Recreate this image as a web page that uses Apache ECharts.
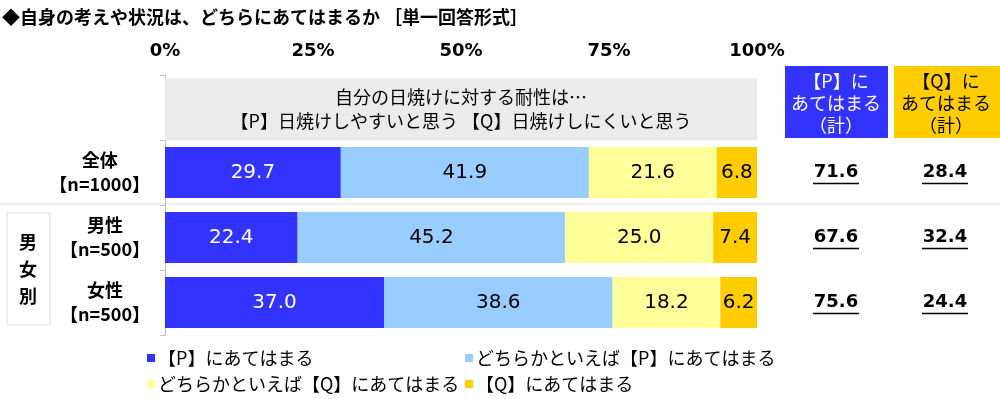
<!DOCTYPE html>
<html>
<head>
<meta charset="utf-8">
<script src="https://cdn.jsdelivr.net/npm/echarts@6/dist/echarts.min.js"></script>
<style>
html, body { margin: 0; padding: 0; background: #fff; }
#main { width: 1000px; height: 399px; }
</style>
</head>
<body>
<div id="main"></div>
<script>
var FONT = '"Noto Sans CJK JP", "Noto Sans", sans-serif';
var NUMFONT = '"DejaVu Sans", sans-serif';

// データ
var rows = ['全体', '男性', '女性'];
var counts = ['【n=1000】', '【n=500】', '【n=500】'];
var seriesNames = ['【P】にあてはまる', 'どちらかといえば【P】にあてはまる', 'どちらかといえば【Q】にあてはまる', '【Q】にあてはまる'];
var valP = [29.7, 22.4, 37.0];
var valPmaybe = [41.9, 45.2, 38.6];
var valQmaybe = [21.6, 25.0, 18.2];
var valQ = [6.8, 7.4, 6.2];
var xTicks = [0, 25, 50, 75, 100];
var header = ['自分の日焼けに対する耐性は…', '【P】日焼けしやすいと思う 【Q】日焼けしにくいと思う'];
var colors = ['#3333ff', '#99ccff', '#ffff99', '#ffcc00'];

var chart = echarts.init(document.getElementById('main'));

function barSerie(i, vals) {
    return {
        name: seriesNames[i],
        type: 'bar',
        stack: 'total',
        barWidth: 51,
        data: ['-'].concat(vals),
        itemStyle: { color: colors[i] },
        label: {
            show: true,
            position: 'inside',
            fontFamily: NUMFONT,
            fontSize: 20,
            color: i === 0 ? '#fff' : '#000',
            formatter: function (p) { return p.value.toFixed(1); }
        }
    };
}

var legendText = { fontFamily: FONT, fontSize: 18, color: '#000', lineHeight: 20, padding: [0, 0, 0, -2] };

var option = {
    animation: false,
    title: {
        text: '◆自身の考えや状況は、どちらにあてはまるか ［単一回答形式］',
        left: 2,
        top: 8,
        padding: 0,
        textStyle: { fontFamily: FONT, fontSize: 18, fontWeight: 'bold', color: '#000' }
    },
    legend: [{
        orient: 'vertical',
        left: 147,
        top: 348,
        padding: 0,
        itemGap: 6,
        itemWidth: 8,
        itemHeight: 8,
        icon: 'rect',
        data: [seriesNames[0], seriesNames[2]],
        textStyle: legendText
    }, {
        orient: 'vertical',
        left: 465,
        top: 348,
        padding: 0,
        itemGap: 6,
        itemWidth: 8,
        itemHeight: 8,
        icon: 'rect',
        data: [seriesNames[1], seriesNames[3]],
        textStyle: legendText
    }],
    grid: { left: 165, right: 243, top: 75, height: 260, containLabel: false },
    xAxis: {
        type: 'value',
        position: 'top',
        min: xTicks[0],
        max: xTicks[xTicks.length - 1],
        interval: 25,
        axisLine: { show: false },
        axisTick: { show: false },
        splitLine: { show: false },
        axisLabel: {
            margin: 15,
            fontFamily: NUMFONT,
            fontSize: 18,
            fontWeight: 'bold',
            color: '#000',
            formatter: function (v) { return v + '%'; }
        }
    },
    yAxis: {
        type: 'category',
        inverse: true,
        data: [''].concat(rows),
        axisLine: { show: true, lineStyle: { color: '#bfbfbf' } },
        axisTick: { show: true, length: 5, lineStyle: { color: '#bfbfbf' } },
        axisLabel: {
            margin: 15,
            formatter: function (v, i) {
                if (i === 0) return '';
                return '{a|' + v + '}\n{a|' + counts[i - 1] + '}';
            },
            rich: {
                a: { align: 'center', fontFamily: FONT, fontSize: 18, fontWeight: 'bold', color: '#000', lineHeight: 24 }
            }
        }
    },
    graphic: [
        { type: 'line', z: -1, shape: { x1: 0, y1: 204, x2: 1000, y2: 204 }, style: { stroke: '#dedede', lineWidth: 1 } },
        { type: 'rect', shape: { x: 7, y: 213, width: 43, height: 112 }, style: { fill: '#fff', stroke: '#dcdcdc', lineWidth: 1 } },
        { type: 'text', x: 28, y: 269, style: { text: '男\n女\n別', align: 'center', verticalAlign: 'middle', lineHeight: 27, font: 'bold 18px ' + FONT, fill: '#000' } },
        { type: 'rect', shape: { x: 785, y: 66, width: 103, height: 72 }, style: { fill: colors[0] } },
        { type: 'text', x: 836, y: 103, style: { text: '【P】に\nあてはまる\n（計）', align: 'center', verticalAlign: 'middle', lineHeight: 22, font: '18px ' + FONT, fill: '#fff' } },
        { type: 'rect', shape: { x: 894, y: 66, width: 106, height: 72 }, style: { fill: colors[3] } },
        { type: 'text', x: 946, y: 103, style: { text: '【Q】に\nあてはまる\n（計）', align: 'center', verticalAlign: 'middle', lineHeight: 22, font: '18px ' + FONT, fill: '#000' } }
    ],
    series: [
        barSerie(0, valP),
        barSerie(1, valPmaybe),
        barSerie(2, valQmaybe),
        barSerie(3, valQ),
        {
            type: 'custom',
            name: 'header',
            silent: true,
            clip: false,
            data: [[0, 0]],
            renderItem: function (params, api) {
                var l = api.coord([0, 0]);
                var r = api.coord([100, 0]);
                var c = l[1];
                return {
                    type: 'group',
                    children: [{
                        type: 'rect',
                        shape: { x: l[0], y: c - 29, width: r[0] - l[0], height: 62 },
                        style: { fill: '#ebebeb' }
                    }, {
                        type: 'text',
                        style: {
                            text: header.join('\n'), x: (l[0] + r[0]) / 2, y: c + 2,
                            align: 'center', verticalAlign: 'middle', lineHeight: 24,
                            font: '18px ' + FONT, fill: '#000'
                        }
                    }]
                };
            }
        },
        {
            type: 'custom',
            name: 'totals',
            silent: true,
            clip: false,
            data: [[0, 1], [0, 2], [0, 3]],
            renderItem: function (params, api) {
                var i = params.dataIndex;
                var p = api.coord([100, i + 1]);
                var tP = (valP[i] + valPmaybe[i]).toFixed(1);
                var tQ = (valQmaybe[i] + valQ[i]).toFixed(1);
                var xs = [p[0] + 79, p[0] + 188];
                var texts = [tP, tQ];
                var children = [];
                for (var k = 0; k < 2; k++) {
                    children.push({
                        type: 'text',
                        style: {
                            text: texts[k], x: xs[k], y: p[1],
                            align: 'center', verticalAlign: 'middle',
                            font: 'bold 18px ' + NUMFONT, fill: '#000'
                        }
                    });
                    children.push({
                        type: 'line',
                        shape: { x1: xs[k] - 23, y1: p[1] + 11, x2: xs[k] + 23, y2: p[1] + 11 },
                        style: { stroke: '#000', lineWidth: 1.5 }
                    });
                }
                return { type: 'group', children: children };
            }
        }
    ]
};

chart.setOption(option);
</script>
</body>
</html>
